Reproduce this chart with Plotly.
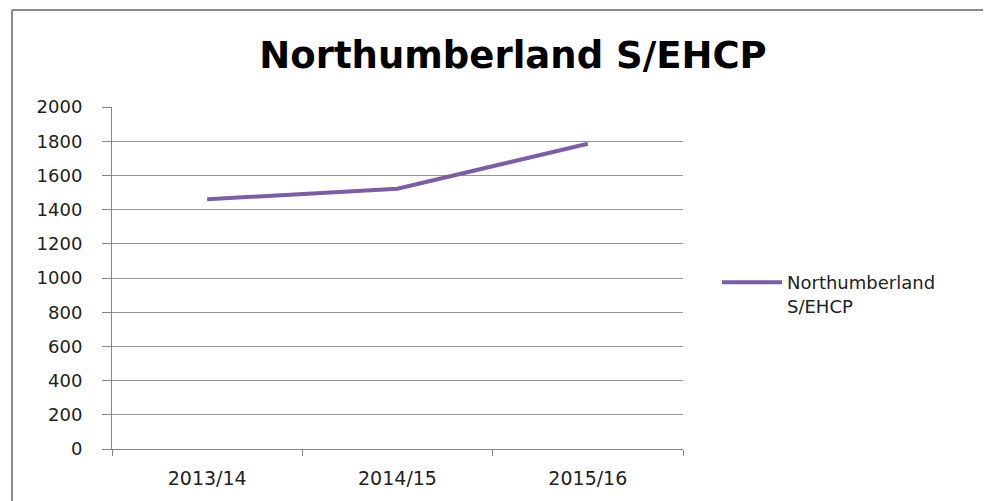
import plotly.graph_objects as go

categories = ["2013/14", "2014/15", "2015/16"]
values = [1460, 1522, 1785]
series_name = "Northumberland<br>S/EHCP"
title_text = "Northumberland S/EHCP"
y_ticks = [0, 200, 400, 600, 800, 1000, 1200, 1400, 1600, 1800, 2000]

OFF = 8  # page body margin offset
W, H = 991 - OFF, 501 - OFF
L, T = 112 - OFF, 107 - OFF
R = W - (683 - OFF)
B = H - (449 - OFF)
pw, ph = W - L - R, H - T - B

def px_x(x):
    return (x - OFF - L) / pw

def px_y(y):
    return 1 - (y - OFF - T) / ph

fig = go.Figure()
fig.add_trace(go.Scatter(
    x=categories, y=values, mode="lines", name=series_name,
    line=dict(color="#7B5EA7", width=4),
))

fig.update_layout(
    width=W, height=H,
    margin=dict(l=L, r=R, t=T, b=B),
    paper_bgcolor="white", plot_bgcolor="white",
    title=dict(text="<b>" + title_text + "</b>", x=px_x(513), xref="paper",
               xanchor="center", y=1 - (55 - OFF) / H, yanchor="middle",
               font=dict(family="DejaVu Sans", size=37, color="#000000")),
    showlegend=True,
    legend=dict(x=px_x(717), xanchor="left", y=px_y(264), yanchor="top",
                valign="top",
                font=dict(family="DejaVu Sans", size=18, color="#222222"),
                itemwidth=60, bgcolor="rgba(0,0,0,0)"),
    font=dict(family="DejaVu Sans", size=18, color="#222222"),
)

fig.update_xaxes(
    type="category", tickson="boundaries", ticks="outside", ticklen=6,
    tickcolor="#868686", showline=True, linecolor="#868686", linewidth=1,
    showgrid=False, tickfont=dict(size=19), range=[-0.5, 2.5],
    ticklabelstandoff=12,
)
fig.update_yaxes(
    range=[0, 2000], tickvals=y_ticks, ticks="outside", ticklen=9,
    tickcolor="#868686", showline=True, linecolor="#868686", linewidth=1,
    gridcolor="#959595", gridwidth=1, zeroline=False, tickfont=dict(size=18),
    ticklabelstandoff=16,
)

# outer chart border (left and top edges visible)
bx = px_x(12)
by = px_y(10)
fig.add_shape(type="line", xref="paper", yref="paper", x0=bx, x1=bx, y0=px_y(520), y1=by,
              line=dict(color="#8a8a8a", width=2))
fig.add_shape(type="line", xref="paper", yref="paper", x0=bx, x1=px_x(1010), y0=by, y1=by,
              line=dict(color="#8a8a8a", width=2))

fig.write_html("out.html")
